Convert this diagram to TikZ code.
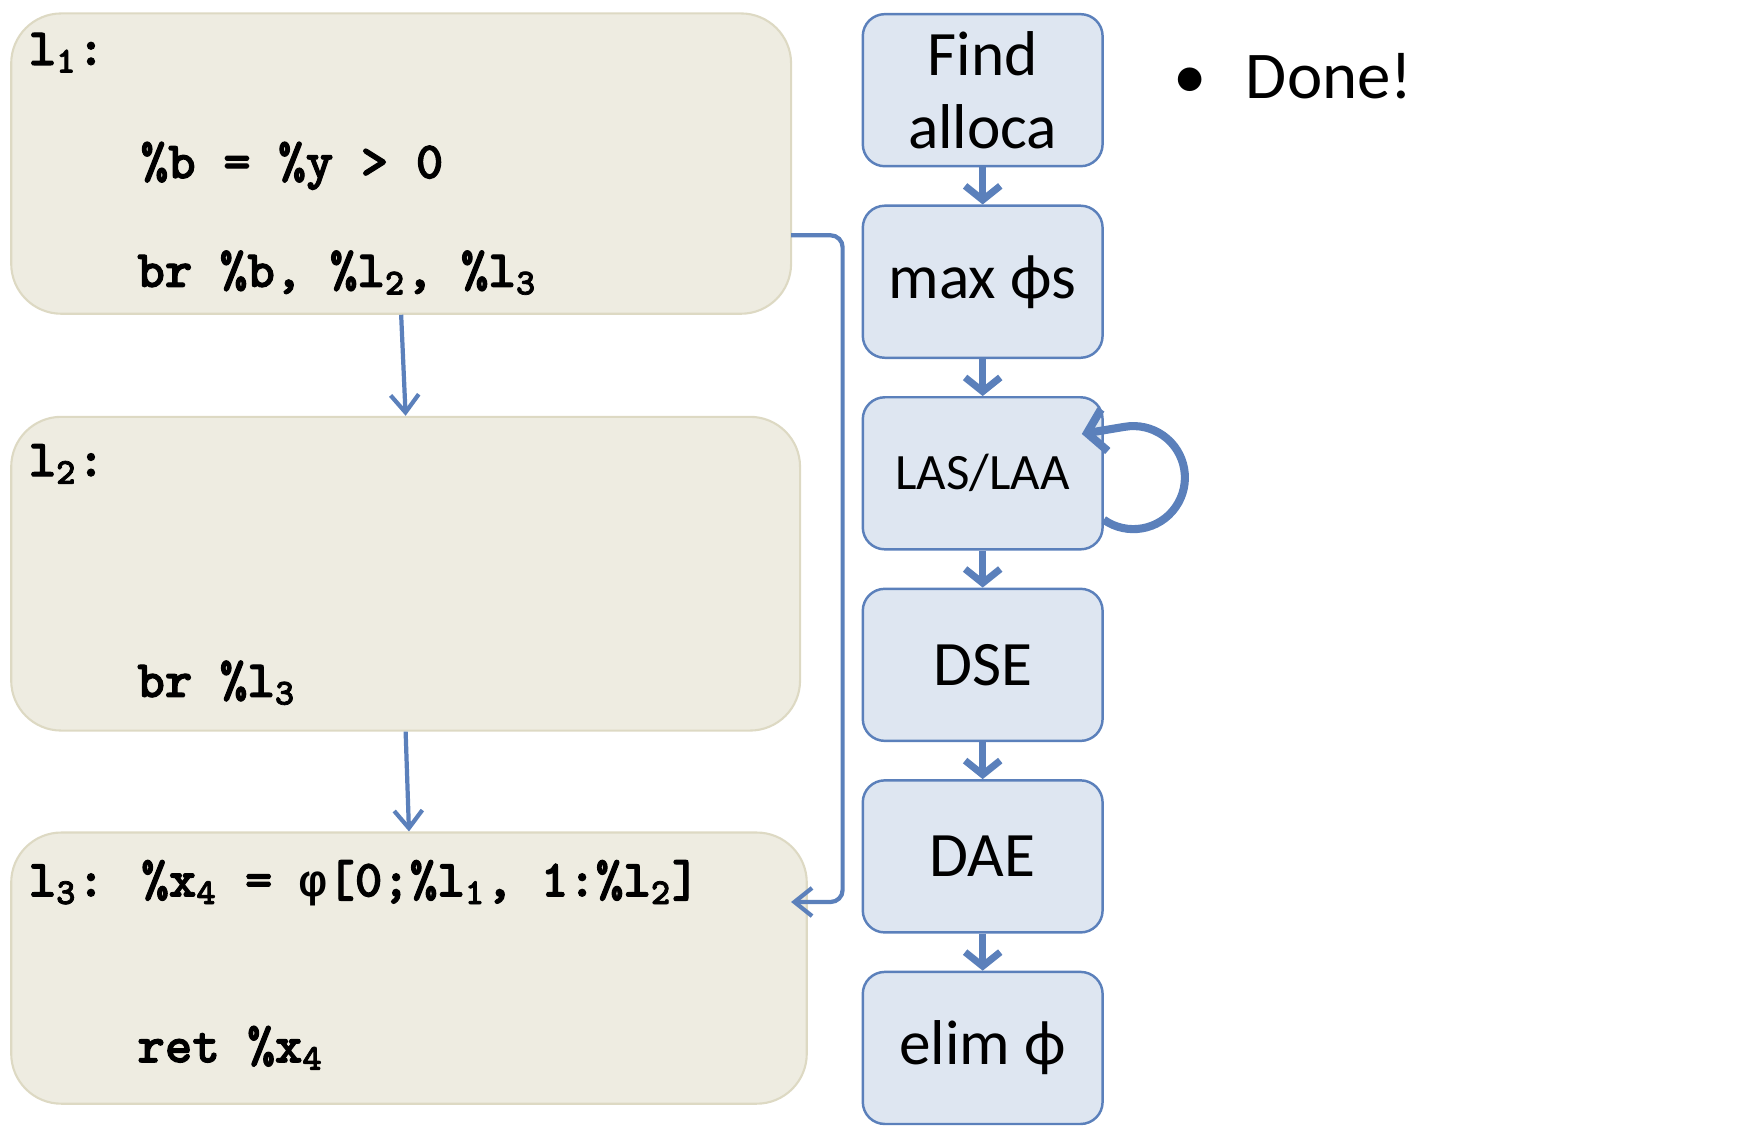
\documentclass[tikz,border=0pt]{standalone}
\usepackage{fontspec}
\setmainfont{Carlito}
\newfontfamily\codefont{lmmonolt10-bold.otf}[FakeBold=2]
\newfontfamily\phifont{Liberation Mono}
\usetikzlibrary{arrows.meta,positioning,fit}
\definecolor{codefill}{HTML}{EEECE1}
\definecolor{codeline}{HTML}{DDD9C3}
\definecolor{passfill}{HTML}{DEE6F1}
\definecolor{passline}{HTML}{5B80BB}
\tikzstyle{codebox} = [draw=codeline, fill=codefill, line width=0.6pt, rounded corners=0.5cm, inner sep=0pt]
\tikzstyle{code} = [anchor=base west, inner sep=0pt, font=\fontsize{14.9}{15}\codefont\bfseries]
\tikzstyle{pass} = [draw=passline, fill=passfill, line width=0.7pt, rounded corners=0.22cm, minimum width=2.397cm, minimum height=1.52cm, align=center, font=\fontsize{18}{21}\selectfont]
\tikzstyle{cfgedge} = [draw=passline, line width=1.2pt, -{Straight Barb[length=5pt,width=8pt]}]
\tikzstyle{passedge} = [draw=passline, line width=2pt, -{Straight Barb[length=4pt,width=10pt]}]

\begin{document}
\begin{tikzpicture}[x=0.0112cm, y=0.0112cm]
\useasboundingbox (0,0) rectangle (1560,-1012);

% basic blocks
\node[codebox, fit={(10,-12) (706,-280)}] (b1) {};
\node[codebox, fit={(10,-372) (714,-652)}] (b2) {};
\node[codebox, fit={(10,-743) (720,-985)}] (b3) {};

\node[code] (l1) at (25,-58) {l\textsubscript{1}:};
\node[code] (cmp) at (125,-159) {\%b = \%y > 0};
\node[code] (br1) at (122,-256) {br \%b, \%l\textsubscript{2}, \%l\textsubscript{3}};

\node[code] (l2) at (25,-425) {l\textsubscript{2}:};
\node[code] (br2) at (122,-622) {br \%l\textsubscript{3}};

\node[code] (l3) at (25,-800) {l\textsubscript{3}: \%x\textsubscript{4} = {\fontsize{13}{13}\phifont\bfseries φ}[0;\%l\textsubscript{1}, 1:\%l\textsubscript{2}]};
\node[code] (ret) at (122,-948) {ret \%x\textsubscript{4}};

\draw[cfgedge] (b1.south) -- (b2.north);
\draw[cfgedge] (b2.south) -- (b3.north);
\coordinate (out1) at (706,-210);
\coordinate (in3) at (706,-805);
\draw[cfgedge, rounded corners=0.12cm] (out1) -- (752,-210) -- (752,-805) -- (in3);

% passes
\node[pass] (find) at (877,-80.5) {Find\\alloca};
\node[pass, below=0.37cm of find] (maxphi) {max ϕs};
\node[pass, below=0.37cm of maxphi, font=\fontsize{14.5}{16}\selectfont] (las) {LAS/LAA};
\node[pass, below=0.37cm of las] (dse) {DSE};
\node[pass, below=0.37cm of dse] (dae) {DAE};
\node[pass, below=0.37cm of dae] (elim) {elim ϕ};

\foreach \a/\b in {find/maxphi, maxphi/las, las/dse, dse/dae, dae/elim}
  \draw[passedge] (\a.south) -- (\b.north);

\draw[passedge, line width=2.3pt, -{Straight Barb[length=5pt,width=12pt]}] (las.-21) arc[start angle=235, end angle=460, radius=0.515cm] -- ([xshift=-0.22cm]las.18);

\node[anchor=base west, inner sep=0pt, font=\fontsize{19}{22}\selectfont] (done) at (1047,-88) {\makebox[20.5pt][l]{\textbullet}Done!};

\end{tikzpicture}
\end{document}
